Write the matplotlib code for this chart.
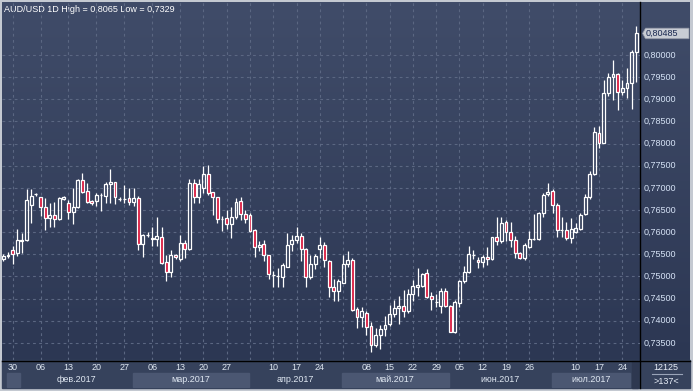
import numpy as np
import matplotlib
matplotlib.use('Agg')
import matplotlib.pyplot as plt
from matplotlib.patches import Rectangle, Polygon
from matplotlib.colors import LinearSegmentedColormap

# AUD/USD daily candles, 137 bars (open, high, low, close)
opens = [0.75394, 0.75473, 0.75598, 0.75523, 0.75807, 0.75823, 0.76613, 0.76855, 0.76787, 0.76575,
         0.76326, 0.76381, 0.76290, 0.76749, 0.76652, 0.76462, 0.76561, 0.77177, 0.76922, 0.76697,
         0.76710, 0.76830, 0.76816, 0.77080, 0.77125, 0.76755, 0.76749, 0.76764, 0.76674, 0.76771,
         0.75726, 0.75936, 0.75862, 0.75839, 0.75898, 0.75320, 0.75094, 0.75478, 0.75388, 0.75749,
         0.75613, 0.77103, 0.76787, 0.76990, 0.77313, 0.76900, 0.76787, 0.76290, 0.76313, 0.76178,
         0.76336, 0.76703, 0.76410, 0.76387, 0.76049, 0.75658, 0.75726, 0.75478, 0.75033, 0.75018,
         0.74981, 0.75221, 0.75726, 0.75823, 0.75913, 0.75613, 0.74981, 0.75282, 0.75613, 0.75710,
         0.75356, 0.74769, 0.74679, 0.74859, 0.75275, 0.75365, 0.74259, 0.74092, 0.74169, 0.73882,
         0.73447, 0.73679, 0.73808, 0.73921, 0.74146, 0.74288, 0.74334, 0.74214, 0.74598, 0.74769,
         0.74792, 0.75072, 0.74559, 0.74431, 0.74334, 0.74672, 0.74334, 0.73754, 0.74394, 0.74898,
         0.75094, 0.75478, 0.75372, 0.75327, 0.75433, 0.75388, 0.75884, 0.75801, 0.76223, 0.75997,
         0.75823, 0.75537, 0.75424, 0.75658, 0.75839, 0.75846, 0.76426, 0.76855, 0.76929, 0.76613,
         0.76049, 0.76049, 0.75862, 0.76011, 0.76065, 0.76403, 0.76787, 0.77306, 0.78245, 0.78019,
         0.79148, 0.79509, 0.79570, 0.79170, 0.79247, 0.79373, 0.80060]
highs = [0.75507, 0.75559, 0.75688, 0.76065, 0.75988, 0.76968, 0.76968, 0.76891, 0.76801, 0.76764,
         0.76665, 0.76688, 0.76801, 0.76816, 0.76726, 0.76990, 0.77193, 0.77329, 0.77116, 0.76726,
         0.76891, 0.76891, 0.77139, 0.77419, 0.77139, 0.76787, 0.77065, 0.76990, 0.76990, 0.76816,
         0.75952, 0.76004, 0.76110, 0.76336, 0.76110, 0.75485, 0.75598, 0.75507, 0.75936, 0.75823,
         0.77193, 0.77193, 0.77193, 0.77493, 0.77516, 0.76913, 0.76801, 0.76365, 0.76500, 0.76575,
         0.76764, 0.76801, 0.76500, 0.76426, 0.76065, 0.75807, 0.75823, 0.75485, 0.75130, 0.75191,
         0.75311, 0.75974, 0.75936, 0.76110, 0.75974, 0.75636, 0.75485, 0.75500, 0.75884, 0.75785,
         0.75372, 0.74936, 0.74936, 0.75485, 0.75575, 0.75410, 0.74304, 0.74318, 0.74221, 0.73979,
         0.73844, 0.73905, 0.74108, 0.74356, 0.74469, 0.74559, 0.74695, 0.74710, 0.74920, 0.75184,
         0.75085, 0.75169, 0.74656, 0.74604, 0.74733, 0.74733, 0.74356, 0.74469, 0.74920, 0.75236,
         0.75688, 0.75598, 0.75433, 0.75485, 0.75658, 0.75898, 0.76349, 0.76349, 0.76275, 0.76236,
         0.75913, 0.75559, 0.75762, 0.76026, 0.76410, 0.76462, 0.76877, 0.77116, 0.76968, 0.76652,
         0.76349, 0.76236, 0.76313, 0.76200, 0.76426, 0.76861, 0.77387, 0.78380, 0.78396, 0.79434,
         0.79586, 0.79886, 0.79586, 0.79434, 0.79699, 0.80112, 0.80650]
lows = [0.75349, 0.75410, 0.75275, 0.75462, 0.75523, 0.75807, 0.76200, 0.76816, 0.76372, 0.76049,
        0.76123, 0.76110, 0.76275, 0.76726, 0.76297, 0.76184, 0.76539, 0.76877, 0.76652, 0.76613,
        0.76591, 0.76485, 0.76652, 0.76652, 0.76636, 0.76703, 0.76652, 0.76613, 0.76591, 0.75598,
        0.75433, 0.75898, 0.75688, 0.75688, 0.75282, 0.74905, 0.74981, 0.75401, 0.75356, 0.75410,
        0.75598, 0.76652, 0.76652, 0.76877, 0.76839, 0.76387, 0.76214, 0.76033, 0.76065, 0.75875,
        0.76304, 0.76275, 0.76214, 0.76011, 0.75446, 0.75582, 0.75356, 0.74936, 0.74769, 0.74756,
        0.74756, 0.75207, 0.75582, 0.75749, 0.75356, 0.74756, 0.74936, 0.75162, 0.75410, 0.75221,
        0.74543, 0.74453, 0.74453, 0.74846, 0.75221, 0.74228, 0.73830, 0.73866, 0.73679, 0.73290,
        0.73415, 0.73356, 0.73657, 0.73882, 0.74092, 0.73927, 0.74092, 0.74169, 0.74446, 0.74559,
        0.74756, 0.74521, 0.74243, 0.74318, 0.74169, 0.74318, 0.73740, 0.73731, 0.74318, 0.74846,
        0.75072, 0.75388, 0.75198, 0.75221, 0.75259, 0.75372, 0.75710, 0.75762, 0.75807, 0.75672,
        0.75410, 0.75388, 0.75372, 0.75636, 0.75823, 0.75823, 0.76349, 0.76816, 0.76426, 0.75898,
        0.75884, 0.75823, 0.75749, 0.75974, 0.76049, 0.76387, 0.76749, 0.77290, 0.77893, 0.78006,
        0.79073, 0.78983, 0.78757, 0.79096, 0.79021, 0.78773, 0.79396]
closes = [0.75462, 0.75485, 0.75500, 0.75823, 0.75830, 0.76726, 0.76823, 0.76861, 0.76575, 0.76313,
          0.76381, 0.76290, 0.76764, 0.76787, 0.76448, 0.76561, 0.77177, 0.76913, 0.76674, 0.76652,
          0.76839, 0.76839, 0.77087, 0.77139, 0.76787, 0.76749, 0.76755, 0.76674, 0.76764, 0.75726,
          0.75936, 0.75943, 0.75853, 0.75907, 0.75311, 0.75094, 0.75478, 0.75433, 0.75749, 0.75613,
          0.77103, 0.76787, 0.77087, 0.77313, 0.76891, 0.76787, 0.76290, 0.76297, 0.76178, 0.76336,
          0.76681, 0.76410, 0.76290, 0.76033, 0.75658, 0.75704, 0.75478, 0.75049, 0.75026, 0.75011,
          0.75252, 0.75710, 0.75823, 0.75913, 0.75613, 0.74981, 0.75282, 0.75462, 0.75710, 0.75372,
          0.74756, 0.74679, 0.74898, 0.75282, 0.75365, 0.74243, 0.74092, 0.74221, 0.73866, 0.73447,
          0.73679, 0.73808, 0.73905, 0.74146, 0.74295, 0.74334, 0.74214, 0.74598, 0.74792, 0.74808,
          0.75056, 0.74543, 0.74485, 0.74424, 0.74672, 0.74334, 0.73754, 0.74431, 0.74898, 0.75094,
          0.75500, 0.75485, 0.75327, 0.75433, 0.75388, 0.75884, 0.75801, 0.76214, 0.75997, 0.75823,
          0.75537, 0.75424, 0.75704, 0.75846, 0.75846, 0.76426, 0.76839, 0.76900, 0.76613, 0.76049,
          0.76056, 0.75862, 0.76065, 0.76087, 0.76387, 0.76787, 0.77306, 0.78268, 0.78006, 0.79148,
          0.79509, 0.79570, 0.79170, 0.79247, 0.79360, 0.80060, 0.80485]

price_ticks = [0.735, 0.740, 0.745, 0.750, 0.755, 0.760, 0.765, 0.770,
               0.775, 0.780, 0.785, 0.790, 0.795, 0.800]
day_pos = [2, 8, 14, 20, 26, 32, 38, 43, 48, 58, 63, 68, 78, 83, 88, 93, 98,
           103, 108, 113, 123, 128, 133]
day_labels = ['30', '06', '13', '20', '27', '06', '13', '20', '27', '10', '17', '24',
              '08', '15', '22', '29', '05', '12', '19', '26', '10', '17', '24']
week_pos = day_pos + [53, 73, 118]
month_edges = [0.8, 3.6, 27.8, 52.8, 72.7, 95.7, 117.8, 134.6]
month_labels = ['', 'фев.2017', 'мар.2017', 'апр.2017', 'май.2017', 'июн.2017', 'июл.2017']

W, H = 693, 391
plt.rcParams['font.family'] = ['Liberation Sans', 'DejaVu Sans']
fig = plt.figure(figsize=(W / 100, H / 100), dpi=100)

def px_axes(x0, y0, x1, y1):
    # axes placed by pixel box (y measured from top)
    return fig.add_axes([x0 / W, 1 - y1 / H, (x1 - x0) / W, (y1 - y0) / H])

# background / frame
bg = px_axes(0, 0, W, H)
bg.set_xlim(0, W)
bg.set_ylim(H, 0)
bg.axis('off')
bg.add_patch(Rectangle((0, 0), W, H, color='#c4c9d1'))
grad = LinearSegmentedColormap.from_list('g', ['#404c69', '#2c3753'])
bg.imshow(np.linspace(0, 1, 256).reshape(-1, 1), cmap=grad, aspect='auto',
          extent=[2, 690, 360, 2], zorder=1)
bg.add_patch(Rectangle((2, 360), 688, 28, color='#36425c', zorder=1))
bg.plot([640, 640], [2, 388], color='black', lw=1, zorder=3)
bg.plot([2, 690], [360.5, 360.5], color='black', lw=1, zorder=3)
bg.add_patch(Rectangle((632, 361), 6, 27, color='#2e3850', zorder=2))
bg.text(4, 9, 'AUD/USD 1D High = 0,8065 Low = 0,7329', color='white',
        fontsize=6.5, va='center', ha='left', zorder=4)
bg.text(666, 367, '12125', color='#e8eef8', fontsize=6.5, ha='center', va='center', zorder=4)
bg.plot([652, 682], [373.5, 373.5], color='#9aa4b8', lw=0.8, zorder=4)
bg.text(666, 381, '>137<', color='#e8eef8', fontsize=6.5, ha='center', va='center', zorder=4)

# main price chart
ax = px_axes(2, 2, 640, 360)
ax.set_facecolor('none')
ax.set_xlim(-0.28, 136.8)
ax.set_ylim(0.73115, 0.81195)
for s in ax.spines.values():
    s.set_visible(False)
ax.set_xticks([])
ax.set_yticks([])
for p in price_ticks:
    ax.axhline(p, color='#5b6782', lw=0.8, ls=(0, (2.5, 3)), zorder=1)
for d in week_pos:
    ax.axvline(d, color='#5b6782', lw=0.8, ls=(0, (2.5, 3)), zorder=1)

o = np.array(opens)
h = np.array(highs)
l = np.array(lows)
c = np.array(closes)
x = np.arange(len(o))
top = np.maximum(o, c)
bot = np.minimum(o, c)
ax.vlines(x, top, h, color='white', lw=0.9, zorder=2)
ax.vlines(x, l, bot, color='white', lw=0.9, zorder=2)
bw = 0.62
for i in x:
    face = '#d9143a' if c[i] < o[i] else 'none'
    ax.add_patch(Rectangle((i - bw / 2, bot[i]), bw, max(top[i] - bot[i], 1e-6),
                           facecolor=face, edgecolor='white', lw=0.9, zorder=3))

# price axis on the right
rax = px_axes(641, 2, 690, 360)
rax.set_facecolor('none')
rax.axis('off')
rax.set_xlim(0, 49)
rax.set_ylim(ax.get_ylim())
for p in price_ticks:
    rax.text(3, p, ('%.5f' % p).replace('.', ','), color='#d5e2f5',
             fontsize=6.5, va='center', ha='left')
last = closes[-1]
hh = 0.0012
rax.add_patch(Polygon([(1.5, last), (4.5, last + hh), (48, last + hh),
                       (48, last - hh), (4.5, last - hh)],
                      closed=True, facecolor='#c8ccd4', edgecolor='#8a90a0', lw=0.5))
rax.text(5, last, ('%.5f' % last).replace('.', ','), color='#1a2850',
         fontsize=6.5, va='center', ha='left')

# date axis at the bottom
dax = px_axes(2, 361, 640, 388)
dax.set_facecolor('none')
dax.axis('off')
dax.set_xlim(ax.get_xlim())
dax.set_ylim(0, 27)
for k in range(len(month_labels)):
    a, b = month_edges[k], month_edges[k + 1]
    if k % 2 == 0:
        dax.add_patch(Rectangle((a, 1), b - a, 14, color='#4b5772', zorder=1))
    dax.text((a + b) / 2, 8, month_labels[k], color='#e0e8f2', fontsize=6.5,
             ha='center', va='center', zorder=2)
for d, t in zip(day_pos, day_labels):
    dax.text(d, 20, t, color='#e0e8f2', fontsize=6.5, ha='center', va='center')

fig.savefig('out.png', dpi=100)
